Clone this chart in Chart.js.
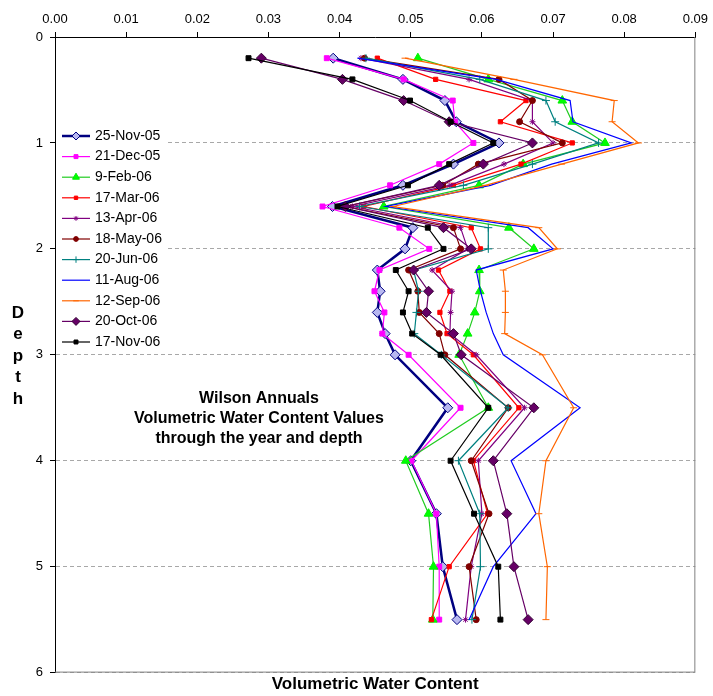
<!DOCTYPE html>
<html>
<head>
<meta charset="utf-8">
<script src="https://cdn.jsdelivr.net/npm/chart.js@4/dist/chart.umd.min.js"></script>
<style>
  html, body { margin: 0; padding: 0; background: #fff; }
  #wrap { width: 713px; height: 696px; }
</style>
</head>
<body>
<div id="wrap"><canvas id="myChart" width="713" height="696"></canvas></div>
<script>
// depth of each reading (top of the profile first)
const depths = [0.2, 0.4, 0.6, 0.8, 1.0, 1.2, 1.4, 1.6, 1.8, 2.0, 2.2, 2.4, 2.6, 2.8, 3.0, 3.5, 4.0, 4.5, 5.0, 5.5];

const seriesLabels = ['25-Nov-05', '21-Dec-05', '9-Feb-06', '17-Mar-06', '13-Apr-06', '18-May-06',
                      '20-Jun-06', '11-Aug-06', '12-Sep-06', '20-Oct-06', '17-Nov-06'];

// volumetric water content per date, same order as depths
const nov05 = [0.0391, 0.0489, 0.0548, 0.0564, 0.0624, 0.0560, 0.0489, 0.0390, 0.0503, 0.0492, 0.0453, 0.0457, 0.0453, 0.0464, 0.0478, 0.0552, 0.0500, 0.0536, 0.0545, 0.0565];
const dec05 = [0.0382, 0.0490, 0.0559, 0.0562, 0.0588, 0.0540, 0.0471, 0.0376, 0.0484, 0.0526, 0.0456, 0.0449, 0.0463, 0.0460, 0.0497, 0.0570, 0.0501, 0.0536, 0.0540, 0.0540];
const feb06 = [0.0510, 0.0609, 0.0713, 0.0727, 0.0773, 0.0658, 0.0596, 0.0462, 0.0638, 0.0673, 0.0596, 0.0597, 0.0590, 0.0580, 0.0568, 0.0609, 0.0493, 0.0525, 0.0532, 0.0531];
const mar06 = [0.0453, 0.0535, 0.0662, 0.0626, 0.0727, 0.0655, 0.0560, 0.0434, 0.0585, 0.0598, 0.0539, 0.0555, 0.0541, 0.0551, 0.0588, 0.0652, 0.0588, 0.0608, 0.0554, 0.0529];
const apr06 = [0.0430, 0.0582, 0.0671, 0.0671, 0.0700, 0.0631, 0.0555, 0.0418, 0.0570, 0.0580, 0.0530, 0.0558, 0.0556, 0.0555, 0.0592, 0.0660, 0.0595, 0.0600, 0.0585, 0.0577];
const may06 = [0.0435, 0.0624, 0.0671, 0.0653, 0.0713, 0.0595, 0.0545, 0.0408, 0.0560, 0.0570, 0.0497, 0.0510, 0.0512, 0.0540, 0.0548, 0.0637, 0.0585, 0.0610, 0.0582, 0.0592];
const jun06 = [0.0437, 0.0597, 0.0690, 0.0703, 0.0764, 0.0671, 0.0574, 0.0428, 0.0609, 0.0609, 0.0504, 0.0511, 0.0508, 0.0505, 0.0543, 0.0637, 0.0567, 0.0597, 0.0598, 0.0586];
const aug06 = [0.0425, 0.0620, 0.0724, 0.0728, 0.0810, 0.0698, 0.0612, 0.0465, 0.0665, 0.0700, 0.0592, 0.0598, 0.0606, 0.0616, 0.0630, 0.0738, 0.0641, 0.0676, 0.0616, 0.0582];
const sep06 = [0.0492, 0.0645, 0.0786, 0.0783, 0.0820, 0.0712, 0.0605, 0.0475, 0.0680, 0.0706, 0.0630, 0.0633, 0.0633, 0.0632, 0.0685, 0.0729, 0.0690, 0.0680, 0.0692, 0.0690];
const oct06 = [0.0290, 0.0404, 0.0490, 0.0554, 0.0671, 0.0602, 0.0540, 0.0408, 0.0546, 0.0585, 0.0504, 0.0525, 0.0522, 0.0560, 0.0571, 0.0673, 0.0616, 0.0635, 0.0645, 0.0665];
const nov06 = [0.0272, 0.0418, 0.0499, 0.0556, 0.0616, 0.0554, 0.0496, 0.0397, 0.0524, 0.0546, 0.0479, 0.0497, 0.0489, 0.0502, 0.0542, 0.0609, 0.0556, 0.0589, 0.0623, 0.0626];

const allValues = [nov05, dec05, feb06, mar06, apr06, may06, jun06, aug06, sep06, oct06, nov06];

const titleLines = ['Wilson Annuals', 'Volumetric Water Content Values', 'through the year and depth'];
const xTitle = 'Volumetric Water Content';
const yTitle = 'Depth';

const FONT = '"Liberation Sans", Arial, sans-serif';

// line colour, marker style, marker size, marker fill, line width
const styles = [
    { line: '#000080', point: 'rectRot', r: 5, fill: '#b8b8f0', edge: '#000080', w: 2.5 },
    { line: '#ff00ff', point: 'rect', r: 3.5, fill: '#ff00ff', edge: '#ff00ff', w: 1.2 },
    { line: '#22cc22', point: 'triangle', r: 5, fill: '#00ff00', edge: '#00ee00', w: 1.2 },
    { line: '#ff0000', point: 'rect', r: 3, fill: '#ff0000', edge: '#ff0000', w: 1.2 },
    { line: '#800080', point: 'star', r: 3, fill: '#800080', edge: '#800080', w: 1.2 },
    { line: '#800000', point: 'circle', r: 3, fill: '#800000', edge: '#800000', w: 1.2 },
    { line: '#008080', point: 'cross', r: 4, fill: '#008080', edge: '#008080', w: 1.2 },
    { line: '#0000ff', point: 'circle', r: 0, fill: '#0000ff', edge: '#0000ff', w: 1.2 },
    { line: '#ff6600', point: 'line', r: 3.5, fill: '#ff6600', edge: '#ff6600', w: 1.2 },
    { line: '#660066', point: 'rectRot', r: 5, fill: '#660066', edge: '#330033', w: 1.2 },
    { line: '#000000', point: 'rect', r: 3.5, fill: '#000000', edge: '#000000', w: 1.2 }
];

const datasets = seriesLabels.map((label, i) => {
    const s = styles[i];
    return {
        label: label,
        data: depths.map((d, k) => ({ x: allValues[i][k], y: d })),
        showLine: true,
        borderColor: s.line,
        borderWidth: s.w,
        pointStyle: s.point,
        pointRadius: s.r,
        pointBackgroundColor: s.fill,
        pointBorderColor: s.edge,
        pointBorderWidth: 1,
        tension: 0,
        order: seriesLabels.length - i // later dates on top, like the original
    };
});

// legend sits inside the plot, top left, on a white box
const innerLegend = {
    id: 'innerLegend',
    afterDraw(chart) {
        const ctx = chart.ctx;
        const left = chart.chartArea.left + 1;
        ctx.save();
        ctx.fillStyle = '#ffffff';
        ctx.fillRect(left, 125, 112, 228);
        ctx.font = '14px ' + FONT;
        ctx.textBaseline = 'middle';
        ctx.textAlign = 'left';
        chart.data.datasets.forEach((ds, i) => {
            const y = 136 + i * 20.6;
            ctx.strokeStyle = ds.borderColor;
            ctx.lineWidth = ds.borderWidth;
            ctx.beginPath();
            ctx.moveTo(62, y);
            ctx.lineTo(90, y);
            ctx.stroke();
            if (ds.pointRadius > 0) {
                ctx.fillStyle = ds.pointBackgroundColor;
                ctx.strokeStyle = ds.pointBorderColor;
                ctx.lineWidth = 1;
                Chart.helpers.drawPoint(ctx, {
                    pointStyle: ds.pointStyle,
                    radius: ds.pointRadius * 0.8,
                    borderWidth: 1,
                    rotation: 0
                }, 76, y);
            }
            ctx.fillStyle = '#000';
            ctx.fillText(ds.label, 95, y);
        });
        ctx.restore();
    }
};

// plot frame, the stacked "Depth" label and the text block in the middle
const extras = {
    id: 'extras',
    afterDraw(chart) {
        const ctx = chart.ctx;
        const a = chart.chartArea;
        ctx.save();
        ctx.strokeStyle = '#808080';
        ctx.lineWidth = 1;
        ctx.beginPath();
        ctx.moveTo(a.right - 0.5, a.top);
        ctx.lineTo(a.right - 0.5, a.bottom - 0.5);
        ctx.lineTo(a.left, a.bottom - 0.5);
        ctx.stroke();

        ctx.fillStyle = '#000';
        ctx.textAlign = 'center';
        ctx.textBaseline = 'middle';
        ctx.font = 'bold 17px ' + FONT;
        yTitle.split('').forEach((ch, i) => {
            ctx.fillText(ch, 18, 313 + i * 21.5);
        });

        ctx.font = 'bold 16px ' + FONT;
        ctx.textBaseline = 'alphabetic';
        titleLines.forEach((t, i) => {
            ctx.fillText(t, 259, 403 + i * 20);
        });
        ctx.restore();
    }
};

const ctx = document.getElementById('myChart');
const myChart = new Chart(ctx, {
    type: 'scatter',
    data: { datasets: datasets },
    options: {
        responsive: false,
        animation: false,
        events: [],
        layout: {
            padding: { left: 0, top: 0, right: 12, bottom: 0 }
        },
        plugins: {
            legend: { display: false },
            tooltip: { enabled: false },
            title: {
                display: true,
                text: xTitle,
                position: 'bottom',
                fullSize: false,
                color: '#000',
                font: { family: FONT, size: 17, weight: 'bold' },
                padding: { top: 2, bottom: 1 }
            }
        },
        scales: {
            x: {
                type: 'linear',
                position: 'top',
                min: 0,
                max: 0.09,
                afterFit(scale) { scale.height = 37; },
                ticks: {
                    stepSize: 0.01,
                    color: '#000',
                    padding: 5,
                    font: { family: FONT, size: 13 },
                    callback: v => v.toFixed(2)
                },
                grid: {
                    drawOnChartArea: false,
                    tickLength: 5,
                    color: '#000'
                },
                border: { color: '#000', width: 1 }
            },
            y: {
                type: 'linear',
                reverse: true,
                min: 0,
                max: 6,
                afterFit(scale) { scale.width = 55; },
                ticks: {
                    stepSize: 1,
                    color: '#000',
                    padding: 7,
                    font: { family: FONT, size: 13 }
                },
                grid: {
                    color: '#a8a8a8',
                    tickColor: '#000',
                    tickLength: 5
                },
                border: { color: '#000', width: 1, dash: [4, 3] }
            }
        }
    },
    plugins: [innerLegend, extras]
});
</script>
</body>
</html>
